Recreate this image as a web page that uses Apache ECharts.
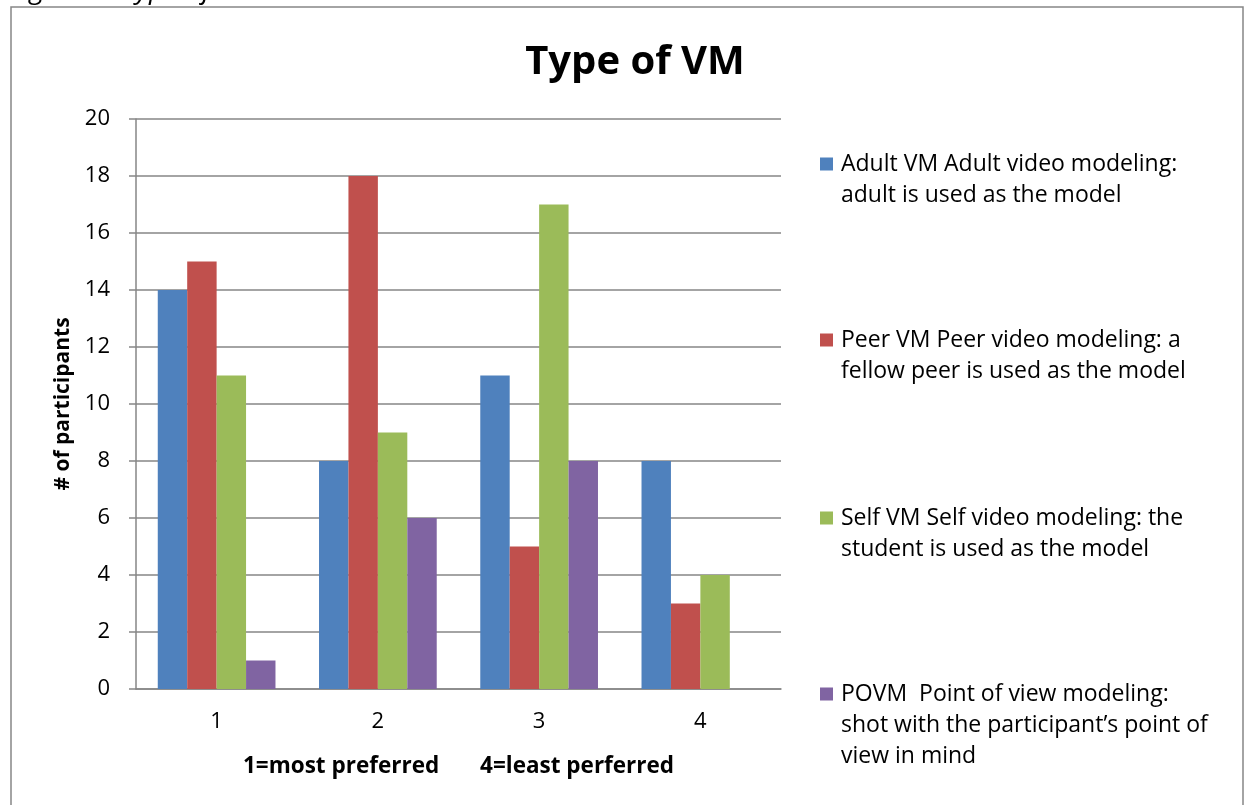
<!DOCTYPE html>
<html>
<head>
<meta charset="utf-8">
<script src="https://cdn.jsdelivr.net/npm/echarts@6/dist/echarts.min.js"></script>
<style>
html,body{margin:0;padding:0;background:#fff;}
#chart{width:1248px;height:805px;}
</style>
</head>
<body>
<div id="chart"></div>
<script>
var categories = ['1', '2', '3', '4'];
var seriesNames = [
  'Adult VM Adult video modeling:\nadult is used as the model',
  'Peer VM Peer video modeling: a\nfellow peer is used as the model',
  'Self VM Self video modeling: the\nstudent is used as the model',
  'POVM  Point of view modeling:\nshot with the participant\u2019s point of\nview in mind'
];
var adultVM = [14, 8, 11, 8];
var peerVM = [15, 18, 5, 3];
var selfVM = [11, 9, 17, 4];
var povm = [1, 6, 8, 0];
var yTicks = [0, 20, 2];
var colors = ['#4F81BD', '#C0504D', '#9BBB59', '#8064A2'];
var allValues = [adultVM, peerVM, selfVM, povm];

var FONT = 'Open Sans';
var LH = 31;
var legendFirstLine = [164, 340, 518, 694];

var legends = seriesNames.map(function (name, i) {
  var lines = name.split('\n').length;
  var H = LH * lines;
  var a = LH / 2 - 6.5;
  var b = a + 13;
  var iconPath = 'path://M0,' + a + 'L13,' + a + 'L13,' + b + 'L0,' + b + 'Z M0,0L0,0 M0,' + H + 'L0,' + H;
  return {
    left: 820,
    top: legendFirstLine[i] - LH / 2,
    padding: 0,
    orient: 'vertical',
    selectedMode: false,
    itemWidth: 13,
    itemHeight: H,
    icon: iconPath,
    data: [{ name: name, icon: iconPath }],
    textStyle: {
      fontFamily: FONT,
      fontSize: 23,
      color: '#000',
      lineHeight: LH,
      padding: [0, 0, 0, 3]
    }
  };
});

var series = seriesNames.map(function (name, i) {
  return {
    name: name,
    type: 'bar',
    data: allValues[i],
    barGap: '0%',
    barCategoryGap: '27%',
    itemStyle: { color: colors[i] }
  };
});

var chart = echarts.init(document.getElementById('chart'));
chart.setOption({
  animation: false,
  color: colors,
  title: {
    text: 'Type of VM',
    left: 630,
    textAlign: 'center',
    top: 38,
    textStyle: { fontFamily: FONT, fontWeight: 'bold', fontSize: 40, color: '#000' }
  },
  legend: legends,
  grid: { left: 136, right: 467, top: 119, bottom: 116, containLabel: false },
  xAxis: {
    type: 'category',
    data: categories,
    name: '1=most preferred       4=least perferred',
    nameLocation: 'middle',
    nameGap: 66,
    nameTextStyle: { fontFamily: FONT, fontWeight: 'bold', fontSize: 22.5, color: '#000' },
    axisLine: { lineStyle: { color: '#868686', width: 1.5 } },
    axisTick: { length: 6, interval: 0, lineStyle: { color: '#868686', width: 1.5 } },
    axisLabel: { fontFamily: FONT, fontSize: 22, color: '#000', margin: 22 }
  },
  yAxis: {
    type: 'value',
    min: yTicks[0],
    max: yTicks[1],
    interval: yTicks[2],
    name: '# of participants',
    nameLocation: 'middle',
    nameGap: 62,
    nameTextStyle: { fontFamily: FONT, fontWeight: 'bold', fontSize: 21, color: '#000' },
    axisLine: { show: true, lineStyle: { color: '#868686', width: 1.5 } },
    axisTick: { show: true, length: 7, lineStyle: { color: '#868686', width: 1.5 } },
    splitLine: { lineStyle: { color: '#868686', width: 1.5 } },
    axisLabel: { fontFamily: FONT, fontSize: 22, color: '#000', margin: 26 }
  },
  series: series,
  graphic: [
    {
      type: 'rect',
      shape: { x: 11, y: 7, width: 1232, height: 820 },
      style: { fill: 'none', stroke: '#868686', lineWidth: 1.5 },
      silent: true
    },
    {
      type: 'text',
      left: 9,
      top: -24,
      style: { text: 'Figure 4. Type of VM', font: 'italic 28px "Open Sans"', fill: '#000' },
      silent: true
    }
  ]
});
</script>
</body>
</html>
